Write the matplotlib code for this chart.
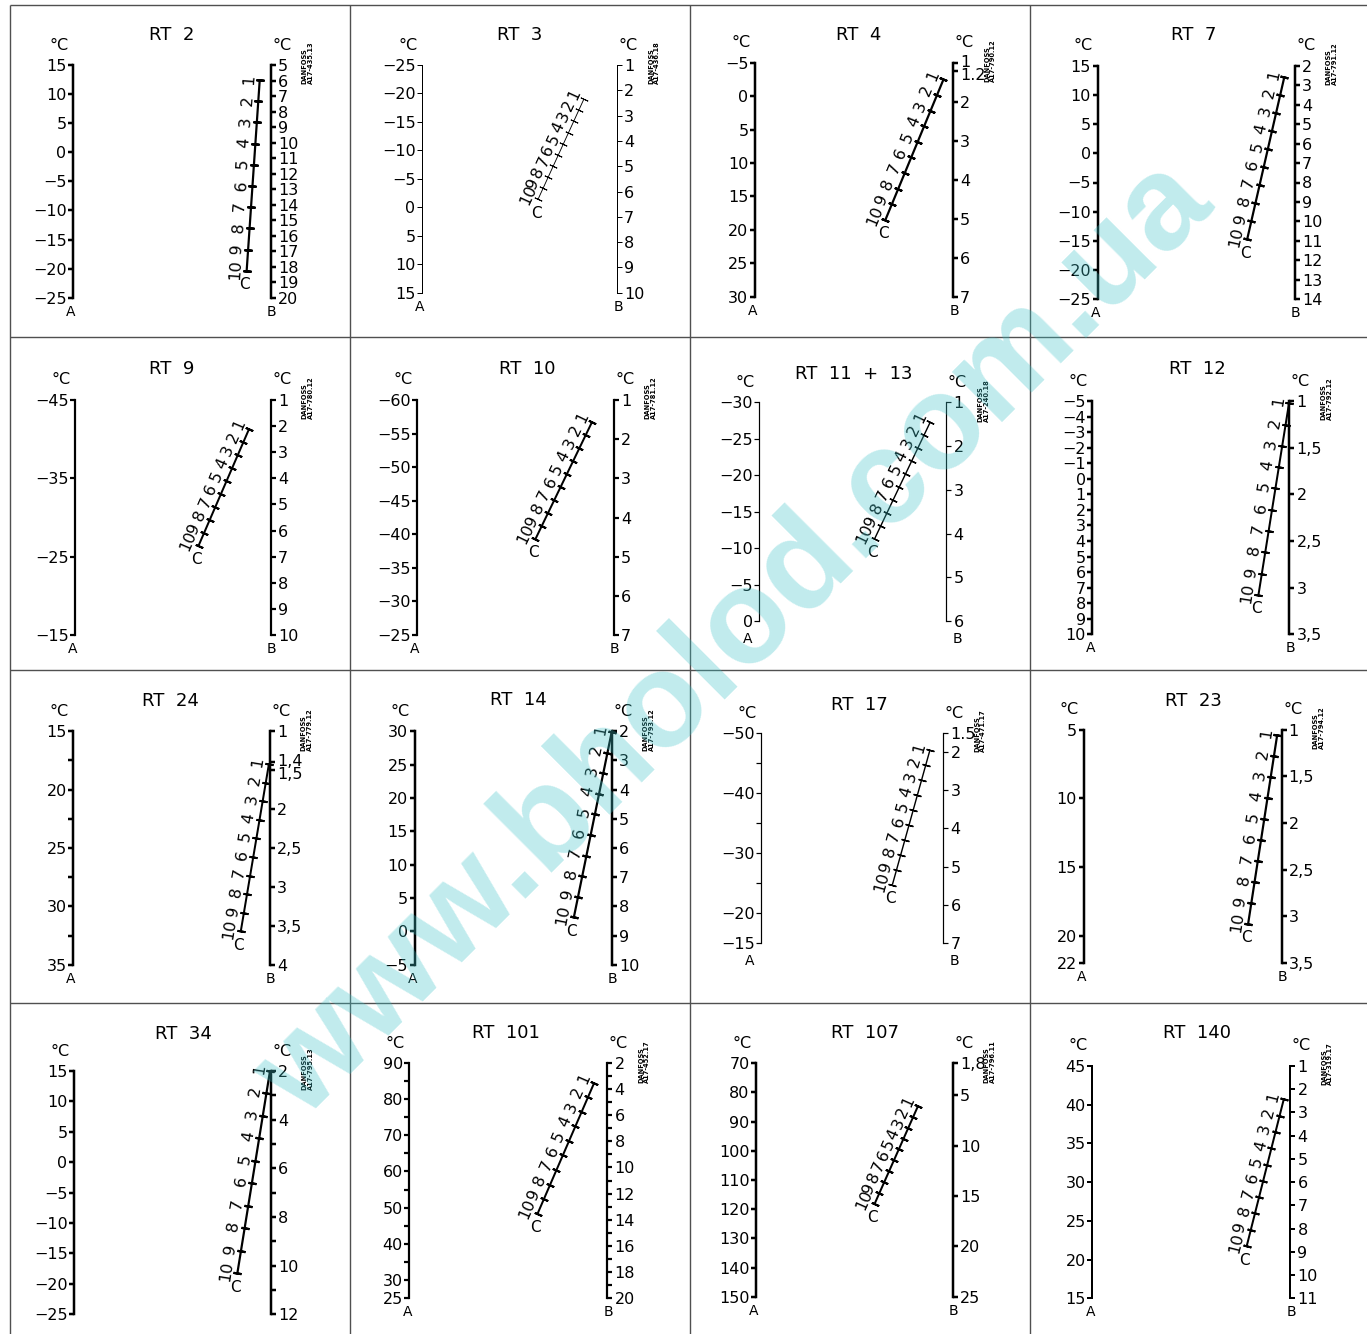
"""
Danfoss RT thermostats: nomograms (A / B / C scales) for 16 models.
"""
import math

import matplotlib
matplotlib.use("Agg")
import matplotlib.pyplot as plt
from matplotlib.transforms import Affine2D, ScaledTranslation

W, H = 1367, 1334          # output size in px
PT = 72 / 100              # px -> pt at dpi=100
MINUS = "\u2212"

# ---- data -------------------------------------------------------------
TITLES = ["RT  2", "RT  3", "RT  4", "RT  7",
          "RT  9", "RT  10", "RT  11  +  13", "RT  12",
          "RT  24", "RT  14", "RT  17", "RT  23",
          "RT  34", "RT  101", "RT  107", "RT  140"]
CODES = ["A17-435.13", "A17-436.18", "A17-790.12", "A17-791.12",
         "A17-780.12", "A17-781.12", "A17-240.18", "A17-792.12",
         "A17-779.12", "A17-793.12", "A17-471.17", "A17-794.12",
         "A17-795.13", "A17-452.17", "A17-796.11", "A17-319.17"]

# A scale (left line), value at top and bottom end
A_TOP = [15, -25, -5, 15, -45, -60, -30, -5, 15, 30, -50, 5, 15, 90, 70, 45]
A_BOTTOM = [-25, 15, 30, -25, -15, -25, 0, 10, 35, -5, -15, 22, -25, 25, 150, 15]
A_TICKS = [
    [15, 10, 5, 0, -5, -10, -15, -20, -25],
    [-25, -20, -15, -10, -5, 0, 5, 10, 15],
    [-5, 0, 5, 10, 15, 20, 25, 30],
    [15, 10, 5, 0, -5, -10, -15, -20, -25],
    [-45, -35, -25, -15],
    [-60, -55, -50, -45, -40, -35, -30, -25],
    [-30, -25, -20, -15, -10, -5, 0],
    [-5, -4, -3, -2, -1, 0, 1, 2, 3, 4, 5, 6, 7, 8, 9, 10],
    [15, 20, 25, 30, 35],
    [30, 25, 20, 15, 10, 5, 0, -5],
    [-50, -40, -30, -20, -15],
    [5, 10, 15, 20, 22],
    [15, 10, 5, 0, -5, -10, -15, -20, -25],
    [90, 80, 70, 60, 50, 40, 30, 25],
    [70, 80, 90, 100, 110, 120, 130, 140, 150],
    [45, 40, 35, 30, 25, 20, 15],
]
A_MINOR = [[], [], [], [], [], [], [], [],
           [17.5, 22.5, 27.5, 32.5], [], [-45, -35, -25], [],
           [], [85, 75, 65, 55, 45, 35], [], []]

# B scale (right line)
B_TOP = [5, 1, 1, 2, 1, 1, 1, 1, 1, 2, 1.5, 1, 2, 2, 1.8, 1]
B_BOTTOM = [20, 10, 7, 14, 10, 7, 6, 3.5, 4, 10, 7, 3.5, 12, 20, 25, 11]
B_TICKS = [
    [5, 6, 7, 8, 9, 10, 11, 12, 13, 14, 15, 16, 17, 18, 19, 20],
    [1, 2, 3, 4, 5, 6, 7, 8, 9, 10],
    [1, 1.2, 2, 3, 4, 5, 6, 7],
    [2, 3, 4, 5, 6, 7, 8, 9, 10, 11, 12, 13, 14],
    [1, 2, 3, 4, 5, 6, 7, 8, 9, 10],
    [1, 2, 3, 4, 5, 6, 7],
    [1, 2, 3, 4, 5, 6],
    [1, 1.5, 2, 2.5, 3, 3.5],
    [1, 1.4, 1.5, 2, 2.5, 3, 3.5, 4],
    [2, 3, 4, 5, 6, 7, 8, 9, 10],
    [1.5, 2, 3, 4, 5, 6, 7],
    [1, 1.5, 2, 2.5, 3, 3.5],
    [2, 4, 6, 8, 10, 12],
    [2, 4, 6, 8, 10, 12, 14, 16, 18, 20],
    [1.8, 5, 10, 15, 20, 25],
    [1, 2, 3, 4, 5, 6, 7, 8, 9, 10, 11],
]
B_MINOR = [[], [], [], [], [], [], [], [], [], [], [], [],
           [3, 5, 7, 9, 11], [3, 5, 7, 9, 11, 13, 15, 17, 19], [], []]
B_DECIMAL = [".", ".", ".", ".", ".", ".", ".", ",",
             ",", ".", ".", ",", ".", ".", ",", "."]

# C scale (slanted line, marks 1..10): ends read as (A value, fraction A->B)
C_MARKS = [1, 2, 3, 4, 5, 6, 7, 8, 9, 10]
C_TOP_A = [12.4, -19.0, -2.5, 13.05, -41.3, -56.7, -27.3, -4.85,
           17.8, 29.9, -47.1, 5.36, 15.0, 84.6, 84.6, 40.7]
C_BOTTOM_A = [-20.36, -1.4, 18.5, -14.75, -26.4, -39.3, -11.25, 7.47,
              32.14, 2.1, -24.7, 19.15, -18.26, 48.3, 118.2, 21.75]
C_TOP_X = [0.944, 0.83, 0.952, 0.947, 0.889, 0.889, 0.914, 0.998,
           0.995, 1.0, 0.926, 0.978, 0.996, 0.934, 0.823, 0.967]
C_BOTTOM_X = [0.878, 0.595, 0.659, 0.759, 0.631, 0.602, 0.616, 0.843,
              0.852, 0.808, 0.72, 0.831, 0.83, 0.648, 0.602, 0.78]

# ---- layout (px): A line x, B line x, top y, bottom y, title x, title y
PANEL_BOX = [
    (73, 270.8, 65, 297.7, 172, 35), (422, 617, 65, 292.7, 520, 35),
    (754.8, 953, 62.7, 296.7, 859, 35), (1097.5, 1294.7, 66, 299, 1194, 35),
    (75, 270.8, 400, 635, 172, 369), (417, 613.8, 400, 635, 527, 369),
    (759.2, 946.4, 402.3, 621, 854, 374), (1092.2, 1289.4, 401, 634.3, 1197, 369),
    (73.1, 269.9, 731.3, 964.7, 170, 701), (414.5, 611.7, 731.3, 964.7, 518, 700),
    (761.4, 943.3, 733, 943, 859, 705), (1083.5, 1281.6, 729.7, 963, 1193, 701),
    (74, 270.8, 1071, 1314.3, 183, 1034), (409.2, 607.3, 1063.3, 1297.7, 506, 1033),
    (756.1, 952.9, 1063.3, 1296.7, 865, 1033), (1092.2, 1290.3, 1066, 1298.3, 1197, 1033),
]
SPINE_PX = [2.5, 1.0, 2.5, 2.5, 2.2, 2.2, 1.2, 2.5,
            2.5, 2.5, 1.2, 2.5, 2.5, 2.2, 2.5, 2.0]
C_LINE_PX = [2.2, 0.9, 2.2, 2.2, 2.0, 2.0, 1.4, 2.0,
             2.0, 2.2, 1.4, 2.2, 2.2, 2.0, 2.0, 2.0]
AB_LETTERS = [True] * 12 + [False, True, True, True]
WIDE_LETTERS = {6, 10}
# crowded B labels: (panel, tick index) -> shift in px (+ = down)
B_LABEL_SHIFT = {(2, 0): -2, (2, 1): 4, (8, 1): -2, (8, 2): 3}

GRID_COLOR = "#505050"
INK = "black"
plt.rcParams["font.family"] = ["DejaVu Sans"]


def fmt_value(v, sep="."):
    return f"{v:g}".replace(".", sep).replace("-", MINUS)


fig = plt.figure(figsize=(W / 100, H / 100), dpi=100, facecolor="white")

# background axes in pixel coordinates for frame lines and free text
bg = fig.add_axes([0, 0, 1, 1], zorder=-1)
bg.set_xlim(0, W)
bg.set_ylim(H, 0)
bg.axis("off")
for y in (5, 337, 670, 1003):
    bg.plot([10, W], [y, y], color=GRID_COLOR, lw=1.4 * PT, solid_capstyle="butt")
for x in (10, 350, 690, 1030):
    bg.plot([x, x], [5, H], color=GRID_COLOR, lw=1.4 * PT, solid_capstyle="butt")

for i in range(16):
    a_x, b_x, top, bot, title_x, title_y = PANEL_BOX[i]
    lw = SPINE_PX[i] * PT

    ax = fig.add_axes([a_x / W, 1 - bot / H, (b_x - a_x) / W, (bot - top) / H])
    ax.set_facecolor("none")
    ax.set_xlim(0, 1)
    ax.set_ylim(A_BOTTOM[i], A_TOP[i])
    for s in ("top", "right", "bottom"):
        ax.spines[s].set_visible(False)
    ax.spines["left"].set_linewidth(lw)
    ax.set_xticks([])
    ax.set_yticks(A_TICKS[i])
    ax.set_yticklabels([fmt_value(v) for v in A_TICKS[i]])
    ax.set_yticks(A_MINOR[i], minor=True)
    ax.tick_params(axis="y", which="both", direction="out", length=5 * PT,
                   width=lw, pad=1, labelsize=11.5)

    axb = ax.twinx()
    axb.set_facecolor("none")
    axb.set_ylim(B_BOTTOM[i], B_TOP[i])
    for s in ("top", "left", "bottom"):
        axb.spines[s].set_visible(False)
    axb.spines["right"].set_linewidth(lw)
    axb.set_yticks(B_TICKS[i])
    axb.set_yticklabels([fmt_value(v, B_DECIMAL[i]) for v in B_TICKS[i]])
    axb.set_yticks(B_MINOR[i], minor=True)
    axb.tick_params(axis="y", which="both", direction="out", length=5 * PT,
                    width=lw, pad=1.5, labelsize=11.5)
    major = axb.yaxis.get_major_ticks()
    for (p, j), shift in B_LABEL_SHIFT.items():
        if p == i:
            lab = major[j].label2
            lab.set_transform(lab.get_transform()
                              + ScaledTranslation(0, -shift / 100, fig.dpi_scale_trans))

    # C scale: map mark value t (1..10) onto the slanted segment
    x1, y1 = C_TOP_X[i], C_TOP_A[i]
    x10, y10 = C_BOTTOM_X[i], C_BOTTOM_A[i]
    a = (x10 - x1) / 9
    b = (y10 - y1) / 9
    c_trans = Affine2D.from_values(a, b, -b, a, x1 - a, y1 - b) + ax.transData
    p1 = c_trans.transform((1, 0))
    p10 = c_trans.transform((10, 0))
    dx, dy = p1[0] - p10[0], p1[1] - p10[1]
    dist = math.hypot(dx, dy)
    angle = math.degrees(math.atan2(dy, dx))
    nx, ny = -dy / dist, dx / dist

    c_lw = C_LINE_PX[i] * PT
    ax.plot(C_MARKS, [0] * len(C_MARKS), transform=c_trans, color=INK, lw=c_lw,
            marker=(2, 2, angle), ms=8 * PT, mew=c_lw, clip_on=False,
            solid_capstyle="butt")
    off = 11 * PT
    for k in C_MARKS:
        ax.annotate(str(k), xy=(k, 0), xycoords=c_trans,
                    xytext=(nx * off, ny * off), textcoords="offset points",
                    rotation=angle, rotation_mode="anchor",
                    ha="center", va="center", fontsize=11.5, color=INK)
    ax.annotate("C", xy=(10, 0), xycoords=c_trans, xytext=(-2 * PT, -14 * PT),
                textcoords="offset points", ha="center", va="center",
                fontsize=11, color=INK)

    # free text around the panel
    bg.text(title_x, title_y, TITLES[i], ha="center", va="center",
            fontsize=13, color=INK)
    bg.text(a_x - 14, top - 20, "°C", ha="center", va="center", fontsize=11.5, color=INK)
    bg.text(b_x + 11, top - 20, "°C", ha="center", va="center", fontsize=11.5, color=INK)
    bg.text(b_x + 37, top - 2, "DANFOSS\n" + CODES[i], rotation=90,
            ha="center", va="center", fontsize=4.8, fontweight="bold",
            linespacing=1.05, multialignment="left", color=INK)
    if AB_LETTERS[i]:
        if i in WIDE_LETTERS:
            ddx, ddy = 12, 18
        else:
            ddx, ddy = 2, 14
        bg.text(a_x - ddx, bot + ddy, "A", ha="center", va="center", fontsize=10, color=INK)
        bg.text(b_x + ddx - 1, bot + ddy, "B", ha="center", va="center", fontsize=10, color=INK)

# watermark
fig.text(735 / W, 1 - 640 / H, "www.bholod.com.ua", rotation=45,
         ha="center", va="center", fontsize=96, fontweight="bold",
         family=["Liberation Sans", "DejaVu Sans"], color="#3cc3c9",
         alpha=0.32, zorder=100)

fig.savefig("out.png", dpi=100, facecolor="white")
